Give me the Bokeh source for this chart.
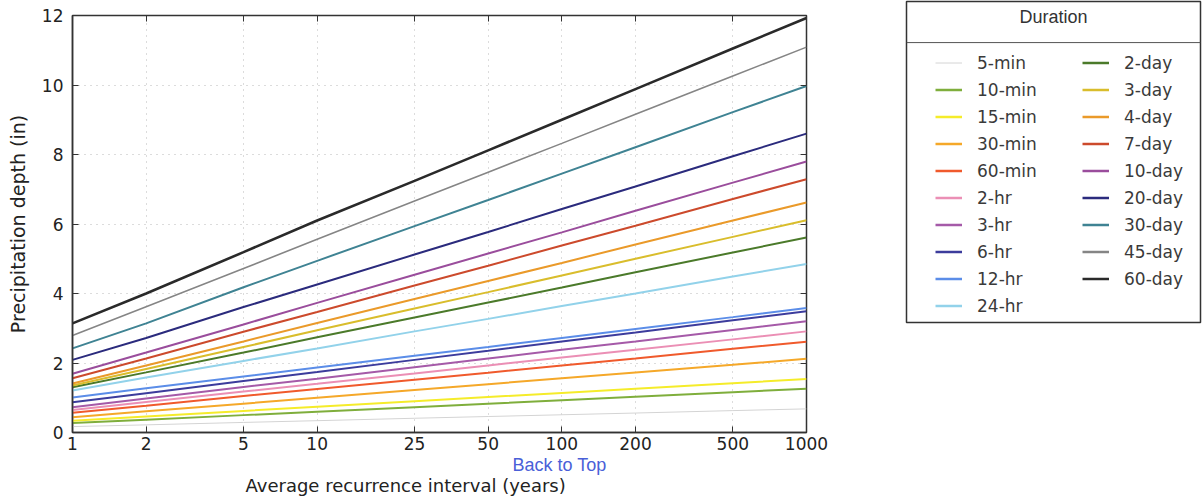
from bokeh.plotting import figure
from bokeh.layouts import row
from bokeh.models import (FixedTicker, Legend, LegendItem, Label, Span, LogAxis, LinearAxis,
                          NumeralTickFormatter, CustomJSTickFormatter, Title)
from bokeh.embed import file_html
from bokeh.resources import INLINE

# Average recurrence intervals (years)
ari = [1, 2, 5, 10, 25, 50, 100, 200, 500, 1000]
y_ticks = [0, 2, 4, 6, 8, 10, 12]

# Precipitation depth (in) per duration
d_5min = [0.17, 0.22, 0.29, 0.34, 0.41, 0.46, 0.51, 0.56, 0.63, 0.68]
d_10min = [0.27, 0.37, 0.50, 0.60, 0.73, 0.83, 0.93, 1.03, 1.16, 1.26]
d_15min = [0.34, 0.46, 0.62, 0.74, 0.90, 1.02, 1.14, 1.26, 1.42, 1.54]
d_30min = [0.44, 0.61, 0.83, 1.00, 1.22, 1.39, 1.56, 1.73, 1.95, 2.12]
d_60min = [0.57, 0.77, 1.05, 1.25, 1.52, 1.72, 1.93, 2.13, 2.41, 2.61]
d_2hr = [0.65, 0.88, 1.18, 1.40, 1.70, 1.93, 2.16, 2.38, 2.68, 2.91]
d_3hr = [0.73, 0.98, 1.31, 1.55, 1.88, 2.13, 2.38, 2.62, 2.95, 3.20]
d_6hr = [0.87, 1.13, 1.48, 1.74, 2.09, 2.35, 2.62, 2.88, 3.23, 3.49]
d_12hr = [1.01, 1.27, 1.61, 1.87, 2.21, 2.46, 2.72, 2.98, 3.32, 3.58]
d_24hr = [1.21, 1.58, 2.06, 2.42, 2.91, 3.27, 3.64, 4.00, 4.49, 4.85]
d_2day = [1.30, 1.73, 2.30, 2.74, 3.31, 3.74, 4.17, 4.61, 5.18, 5.61]
d_3day = [1.35, 1.83, 2.46, 2.94, 3.57, 4.04, 4.52, 5.00, 5.63, 6.11]
d_4day = [1.41, 1.93, 2.62, 3.15, 3.84, 4.36, 4.88, 5.41, 6.10, 6.62]
d_7day = [1.56, 2.13, 2.90, 3.47, 4.23, 4.80, 5.38, 5.95, 6.72, 7.29]
d_10day = [1.69, 2.30, 3.11, 3.73, 4.54, 5.15, 5.76, 6.38, 7.19, 7.80]
d_20day = [2.09, 2.72, 3.61, 4.26, 5.12, 5.77, 6.43, 7.08, 7.95, 8.60]
d_30day = [2.42, 3.14, 4.18, 4.94, 5.94, 6.69, 7.45, 8.21, 9.22, 9.97]
d_45day = [2.79, 3.62, 4.72, 5.56, 6.66, 7.49, 8.32, 9.16, 10.26, 11.09]
d_60day = [3.14, 4.00, 5.19, 6.10, 7.24, 8.12, 9.00, 9.88, 11.05, 11.93]

col1_names = ["5-min", "10-min", "15-min", "30-min", "60-min", "2-hr", "3-hr", "6-hr", "12-hr", "24-hr"]
col2_names = ["2-day", "3-day", "4-day", "7-day", "10-day", "20-day", "30-day", "45-day", "60-day"]
series_values = [d_5min, d_10min, d_15min, d_30min, d_60min, d_2hr, d_3hr, d_6hr, d_12hr, d_24hr,
                 d_2day, d_3day, d_4day, d_7day, d_10day, d_20day, d_30day, d_45day, d_60day]
colors = ["#d4d4d4", "#7fae3c", "#f5ec2a", "#f5a829", "#f05a2c", "#eb8fb5", "#a55aa8", "#3c3c9c",
          "#5b8de8", "#92d2ea", "#4b7a2a", "#d9bd2c", "#ea9a2a", "#cc4a2c", "#9a4d9c", "#2b2b7d",
          "#3f8393", "#858585", "#2a2a2a"]
widths = [1, 2, 2, 2, 2, 2, 2, 2, 2, 2, 2, 2, 2, 2, 2, 2, 2, 1.6, 2.6]

TXT = "#222222"
tick_font = "DejaVu Sans"
legend_font = "Liberation Sans"

# ---------------- main chart ----------------
p = figure(width=830, height=497, x_axis_type="log", x_range=(1, 1000), y_range=(0, 12),
           output_backend="svg", toolbar_location=None,
           min_border_left=72, min_border_right=24, min_border_top=15, min_border_bottom=65)
p.frame_align = False
p.outline_line_color = "#333333"
p.outline_line_width = 1.5

for ax in [p.xaxis[0], p.yaxis[0]]:
    ax.major_tick_in = 6
    ax.major_tick_out = 0
    ax.minor_tick_in = 0
    ax.minor_tick_out = 0
    ax.axis_line_color = "#333333"
    ax.axis_line_width = 1.5
    ax.major_tick_line_color = "#333333"
    ax.major_label_text_font = tick_font
    ax.major_label_text_font_size = "17px"
    ax.major_label_text_color = TXT
    ax.axis_label_text_font = tick_font
    ax.axis_label_text_font_size = "19px"
    ax.axis_label_text_font_style = "normal"
    ax.axis_label_text_color = TXT

p.xaxis.ticker = FixedTicker(ticks=ari, minor_ticks=[])
p.xaxis.formatter = NumeralTickFormatter(format="0")
p.xaxis.major_label_standoff = 4

p.yaxis.ticker = FixedTicker(ticks=y_ticks, minor_ticks=[])
p.yaxis.major_label_standoff = 9
p.yaxis.axis_label = "Precipitation depth (in)"
p.yaxis.axis_label_standoff = 10

# mirrored ticks on top and right (no labels)
blank = CustomJSTickFormatter(code="return ''")
top_ax = LogAxis(ticker=FixedTicker(ticks=ari, minor_ticks=[]), formatter=blank,
                 major_tick_in=6, major_tick_out=0, minor_tick_in=0, minor_tick_out=0,
                 axis_line_color=None, major_tick_line_color="#333333", major_label_standoff=0)
right_ax = LinearAxis(ticker=FixedTicker(ticks=y_ticks, minor_ticks=[]), formatter=blank,
                      major_tick_in=6, major_tick_out=0, minor_tick_in=0, minor_tick_out=0,
                      axis_line_color=None, major_tick_line_color="#333333", major_label_standoff=0)
p.add_layout(top_ax, "above")
p.add_layout(right_ax, "right")

p.xgrid.ticker = FixedTicker(ticks=ari, minor_ticks=[])
p.ygrid.ticker = FixedTicker(ticks=y_ticks, minor_ticks=[])
p.grid.grid_line_color = "#b8b8b8"
p.grid.grid_line_dash = "1 5"
p.grid.grid_line_width = 1

# "Back to Top" link and x-axis title stacked below the tick labels
p.add_layout(Title(text="Back to Top", align="left", offset=440, standoff=0,
                   text_font=legend_font, text_font_size="18px", text_font_style="normal",
                   text_color="#4a5fd8"), "below")
p.add_layout(Title(text="Average recurrence interval (years)", align="left", offset=173, standoff=0,
                   vertical_align="top",
                   text_font=tick_font, text_font_size="18px", text_font_style="normal",
                   text_color=TXT), "below")

names = col1_names + col2_names
for name, vals, c, w in zip(names, series_values, colors, widths):
    p.line(ari, vals, line_color=c, line_width=w)

# ---------------- legend panel ----------------
q = figure(width=373, height=497, x_range=(0, 1), y_range=(0, 1),
           output_backend="svg", toolbar_location=None,
           x_axis_location=None, y_axis_location=None,
           min_border_left=76, min_border_right=3, min_border_top=1, min_border_bottom=175)
q.frame_align = False
q.grid.visible = False
q.outline_line_color = "#333333"
q.outline_line_width = 1.5

legend_renderers = {}
for name, vals, c, w in zip(names, series_values, colors, widths):
    legend_renderers[name] = q.line(ari, vals, line_color=c,
                                    line_width=(1 if name == "5-min" else 2.5), visible=False)

common = dict(border_line_color=None, background_fill_alpha=0, padding=0, margin=0,
              glyph_width=27, glyph_height=21, label_height=21, spacing=6, label_standoff=15,
              label_text_font=tick_font, label_text_font_size="17px", label_text_color="#3a3a3a")
leg1 = Legend(items=[LegendItem(label=n, renderers=[legend_renderers[n]]) for n in col1_names],
              location=(29, 6), **common)
leg2 = Legend(items=[LegendItem(label=n, renderers=[legend_renderers[n]]) for n in col2_names],
              location=(176, 33), **common)
q.add_layout(leg1, "center")
q.add_layout(leg2, "center")

q.add_layout(Span(location=0.872, dimension="width", line_color="#555555", line_width=1))
q.add_layout(Label(x=0.5, y=0.953, text="Duration", text_align="center", text_baseline="middle",
                   text_font=legend_font, text_font_size="18px", text_color="#333333"))

layout = row(p, q)
open("out.html", "w").write(file_html(layout, INLINE))
